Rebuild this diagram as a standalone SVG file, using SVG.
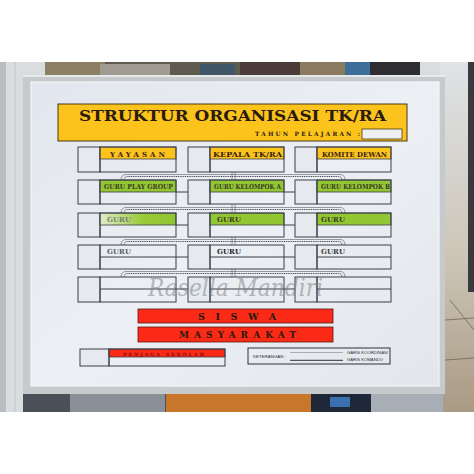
<svg xmlns="http://www.w3.org/2000/svg" width="474" height="474" viewBox="0 0 474 474">
<defs>
<linearGradient id="board" x1="0" y1="0" x2="1" y2="1">
<stop offset="0" stop-color="#e2e6ee"/>
<stop offset="0.5" stop-color="#eceff3"/>
<stop offset="1" stop-color="#e3e6ea"/>
</linearGradient>
<linearGradient id="glare" x1="0" y1="0" x2="1" y2="0">
<stop offset="0" stop-color="#dfeccd"/>
<stop offset="0.55" stop-color="#9bcb3a"/>
<stop offset="1" stop-color="#8fc431"/>
</linearGradient>
<linearGradient id="tile" x1="0" y1="0" x2="0" y2="1">
<stop offset="0" stop-color="#dfe3e6"/>
<stop offset="0.55" stop-color="#cdc6b8"/>
<stop offset="1" stop-color="#a99a84"/>
</linearGradient>
</defs>
<style>
.box{fill:none;stroke:#3a3e48;stroke-width:1}
.sq{fill:#e6e9ee;stroke:#3a3e48;stroke-width:1}
.yel{fill:#fbc31c;stroke:#3a3e48;stroke-width:0.8}
.grn{fill:#93c633;stroke:#3a3e48;stroke-width:0.8}
.red{fill:#fb2a16;stroke:#5a1a14;stroke-width:0.8}
.ht{font-family:"DejaVu Serif","Liberation Serif",serif;font-weight:bold;font-size:7px;fill:#3a1e12}
.gt{font-family:"DejaVu Serif","Liberation Serif",serif;font-weight:bold;font-size:7px;fill:#3a3a22}
.big{font-family:"DejaVu Serif","Liberation Serif",serif;font-weight:bold;fill:#2a1a10}
.sm{font-family:"Liberation Sans","DejaVu Sans",sans-serif;font-size:4.2px;fill:#2a2e36}
.link{stroke:#3a3e48;stroke-width:1;fill:none}
.rail{stroke:#5a5e66;stroke-width:0.6;fill:none}
.dot{stroke:#3a3e48;stroke-width:1;stroke-dasharray:1 0.8;fill:none}
</style>

<!-- photo background -->
<rect x="0" y="0" width="474" height="474" fill="#ffffff"/>
<rect x="0" y="62" width="474" height="350" fill="#d9dde0"/>
<rect x="0" y="62" width="6" height="350" fill="#b9bdc0"/>
<line x1="15" y1="62" x2="15" y2="412" stroke="#c2c6c9" stroke-width="1"/>
<rect x="45" y="62" width="375" height="14" fill="#5e5a50"/>
<rect x="45" y="62" width="60" height="14" fill="#8d7f66"/>
<rect x="100" y="64" width="70" height="12" fill="#9f9b90"/>
<rect x="200" y="64" width="35" height="12" fill="#3f5568"/>
<rect x="240" y="62" width="60" height="14" fill="#4a3a38"/>
<rect x="300" y="62" width="45" height="14" fill="#8a7a60"/>
<rect x="345" y="62" width="25" height="14" fill="#3d6f9a"/>
<rect x="370" y="62" width="50" height="14" fill="#2e2e32"/>
<rect x="440" y="62" width="34" height="350" fill="url(#tile)"/>
<rect x="468" y="62" width="6" height="230" fill="#3a3a3e"/>
<line x1="445" y1="320" x2="474" y2="318" stroke="#6e6458" stroke-width="0.8"/>
<line x1="445" y1="360" x2="474" y2="358" stroke="#6e6458" stroke-width="0.8"/>
<line x1="450" y1="300" x2="474" y2="330" stroke="#6e6458" stroke-width="0.8"/>
<rect x="23" y="393" width="420" height="19" fill="#4a5058"/>
<rect x="70" y="393" width="95" height="19" fill="#8a9098"/>
<rect x="166" y="394" width="145" height="18" fill="#c8762c"/>
<rect x="311" y="394" width="60" height="18" fill="#1f2838"/>
<rect x="330" y="397" width="20" height="10" fill="#3a70b0"/>
<rect x="371" y="394" width="72" height="18" fill="#a8aeb6"/>

<!-- whiteboard -->
<rect x="23" y="75" width="422" height="319" fill="#c6cacd"/>
<rect x="23" y="75" width="422" height="2" fill="#e6e8ea"/>
<rect x="31" y="82" width="408" height="304" fill="url(#board)" stroke="#f4f5f7" stroke-width="1.2"/>

<!-- title -->
<g id="title">
<rect x="58" y="104" width="349" height="37" fill="#fbc31c" stroke="#4a3a1a" stroke-width="1"/>
<text class="big" x="79" y="121" font-size="14.5" textLength="307" lengthAdjust="spacingAndGlyphs">STRUKTUR ORGANISASI TK/RA</text>
<text class="big" x="255" y="136" font-size="5.8" textLength="105" lengthAdjust="spacing">TAHUN PELAJARAN :</text>
<rect x="362" y="129" width="40" height="10" fill="#eef0f2" stroke="#4a3a1a" stroke-width="0.8"/>
</g>

<!-- connectors -->
<g id="connectors">
<line class="link" x1="176" y1="192" x2="188" y2="192"/>
<line class="link" x1="284" y1="192" x2="295" y2="192"/>
<line class="link" x1="176" y1="225" x2="188" y2="225"/>
<line class="link" x1="284" y1="225" x2="295" y2="225"/>
<line class="link" x1="176" y1="257" x2="188" y2="257"/>
<line class="link" x1="284" y1="257" x2="295" y2="257"/>
<line class="link" x1="176" y1="289" x2="188" y2="289"/>
<line class="link" x1="284" y1="289" x2="295" y2="289"/>
<path class="rail" d="M121,180 Q121,174.5 126,174.5 H340 Q345,174.5 345,180"/>
<path class="dot" d="M124,180 Q124,176.5 128,176.5 H338 Q342,176.5 342,180"/>
<path class="rail" d="M121,213 Q121,207.5 126,207.5 H340 Q345,207.5 345,213"/>
<path class="dot" d="M124,213 Q124,209.5 128,209.5 H338 Q342,209.5 342,213"/>
<path class="rail" d="M121,245 Q121,239.5 126,239.5 H340 Q345,239.5 345,245"/>
<path class="dot" d="M124,245 Q124,241.5 128,241.5 H338 Q342,241.5 342,245"/>
<path class="rail" d="M121,277 Q121,271.5 126,271.5 H340 Q345,271.5 345,277"/>
<path class="dot" d="M124,277 Q124,273.5 128,273.5 H338 Q342,273.5 342,277"/>
<path class="rail" d="M232,172 V180 M235,172 V180 M232,204 V213 M235,204 V213 M232,237 V245 M235,237 V245 M232,269 V277 M235,269 V277"/>
</g>

<!-- row 1 -->
<g id="yayasan">
<rect class="sq" x="78" y="147" width="22" height="25"/>
<rect class="yel" x="100" y="147" width="76" height="12"/>
<rect class="box" x="100" y="147" width="76" height="25"/>
<text class="ht" x="110" y="156.5" textLength="55" lengthAdjust="spacing">YAYASAN</text>
</g>
<g id="kepala">
<rect class="sq" x="188" y="147" width="22" height="25"/>
<rect class="yel" x="210" y="147" width="74" height="12"/>
<rect class="box" x="210" y="147" width="74" height="25"/>
<text class="ht" x="213" y="156.5" textLength="69" lengthAdjust="spacingAndGlyphs">KEPALA TK/RA</text>
</g>
<g id="komite">
<rect class="sq" x="295" y="147" width="22" height="25"/>
<rect class="yel" x="317" y="147" width="74" height="12"/>
<rect class="box" x="317" y="147" width="74" height="25"/>
<text class="ht" x="322" y="156.5" textLength="65" lengthAdjust="spacingAndGlyphs">KOMITE DEWAN</text>
</g>

<!-- row 2 -->
<g id="guru-play-group">
<rect class="sq" x="78" y="180" width="22" height="24"/>
<rect class="grn" x="100" y="180" width="76" height="12"/>
<rect class="box" x="100" y="180" width="76" height="24"/>
<text class="gt" x="104" y="189" textLength="69" lengthAdjust="spacingAndGlyphs">GURU PLAY GROUP</text>
</g>
<g id="guru-kelompok-a">
<rect class="sq" x="188" y="180" width="22" height="24"/>
<rect class="grn" x="210" y="180" width="74" height="12"/>
<rect class="box" x="210" y="180" width="74" height="24"/>
<text class="gt" x="214" y="189" textLength="67" lengthAdjust="spacingAndGlyphs">GURU KELOMPOK A</text>
</g>
<g id="guru-kelompok-b">
<rect class="sq" x="295" y="180" width="22" height="24"/>
<rect class="grn" x="317" y="180" width="74" height="12"/>
<rect class="box" x="317" y="180" width="74" height="24"/>
<text class="gt" x="321" y="189" textLength="69" lengthAdjust="spacingAndGlyphs">GURU KELOMPOK B</text>
</g>

<!-- row 3 -->
<g id="guru-3a">
<rect class="sq" x="78" y="213" width="22" height="24"/>
<rect x="100" y="213" width="76" height="12" fill="url(#glare)" stroke="#3a3e48" stroke-width="0.8"/>
<rect class="box" x="100" y="213" width="76" height="24"/>
<text class="gt" x="107" y="222" fill="#7a7d70" style="fill:#7a7d70">GURU</text>
</g>
<g id="guru-3b">
<rect class="sq" x="188" y="213" width="22" height="24"/>
<rect class="grn" x="210" y="213" width="74" height="12"/>
<rect class="box" x="210" y="213" width="74" height="24"/>
<text class="gt" x="217" y="222">GURU</text>
</g>
<g id="guru-3c">
<rect class="sq" x="295" y="213" width="22" height="24"/>
<rect class="grn" x="317" y="213" width="74" height="12"/>
<rect class="box" x="317" y="213" width="74" height="24"/>
<text class="gt" x="321" y="222">GURU</text>
</g>

<!-- row 4 -->
<g id="guru-4a">
<rect class="sq" x="78" y="245" width="22" height="24"/>
<rect class="box" x="100" y="245" width="76" height="24"/>
<line class="link" x1="100" y1="257" x2="176" y2="257"/>
<text class="gt" x="107" y="254" style="fill:#5a5e66">GURU</text>
</g>
<g id="guru-4b">
<rect class="sq" x="188" y="245" width="22" height="24"/>
<rect class="box" x="210" y="245" width="74" height="24"/>
<line class="link" x1="210" y1="257" x2="284" y2="257"/>
<text class="gt" x="217" y="254" style="fill:#22262e">GURU</text>
</g>
<g id="guru-4c">
<rect class="sq" x="295" y="245" width="22" height="24"/>
<rect class="box" x="317" y="245" width="74" height="24"/>
<line class="link" x1="317" y1="257" x2="391" y2="257"/>
<text class="gt" x="321" y="254" style="fill:#3a3e46">GURU</text>
</g>

<!-- row 5 -->
<g id="blank-5a">
<rect class="sq" x="78" y="277" width="22" height="25"/>
<rect class="box" x="100" y="277" width="76" height="25"/>
<line class="link" x1="100" y1="289" x2="176" y2="289"/>
</g>
<g id="blank-5b">
<rect class="sq" x="188" y="277" width="22" height="25"/>
<rect class="box" x="210" y="277" width="74" height="25"/>
<line class="link" x1="210" y1="289" x2="284" y2="289"/>
</g>
<g id="blank-5c">
<rect class="sq" x="295" y="277" width="22" height="25"/>
<rect class="box" x="317" y="277" width="74" height="25"/>
<line class="link" x1="317" y1="289" x2="391" y2="289"/>
</g>

<!-- siswa / masyarakat -->
<g id="siswa">
<rect class="red" x="138" y="309" width="195" height="14"/>
<text class="big" x="198" y="319.5" font-size="9.5" textLength="78" lengthAdjust="spacing">SISWA</text>
</g>
<g id="masyarakat">
<rect class="red" x="138" y="327" width="195" height="15"/>
<text class="big" x="179" y="338" font-size="9" textLength="117" lengthAdjust="spacing">MASYARAKAT</text>
</g>

<!-- penjaga sekolah -->
<g id="penjaga-sekolah">
<rect class="sq" x="80" y="349" width="29" height="17"/>
<rect class="red" x="109" y="349" width="116" height="8" style="stroke:#3a3e48"/>
<rect class="box" x="109" y="349" width="116" height="17"/>
<text class="big" x="123" y="355.5" font-size="4.5" textLength="81" lengthAdjust="spacing" style="fill:#7a0c08">PENJAGA SEKOLAH</text>
</g>

<!-- keterangan -->
<g id="keterangan">
<rect x="248" y="348" width="142" height="16" fill="none" stroke="#2e323a" stroke-width="1"/>
<text class="sm" x="253" y="358" textLength="33" lengthAdjust="spacingAndGlyphs">KETERANGAN :</text>
<line x1="290" y1="352.5" x2="343" y2="352.5" stroke="#6a6e76" stroke-width="0.5"/>
<line x1="290" y1="360.3" x2="343" y2="360.3" stroke="#2e323a" stroke-width="1"/>
<text class="sm" x="347" y="354" textLength="41" lengthAdjust="spacingAndGlyphs">GARIS KOORDINASI</text>
<text class="sm" x="347" y="361" textLength="36" lengthAdjust="spacingAndGlyphs">GARIS KOMANDO</text>
</g>

<!-- watermark -->
<text x="148" y="296" font-family="'DejaVu Serif','Liberation Serif',serif" font-style="italic" font-size="24" fill="#7d8188" fill-opacity="0.55" textLength="175" lengthAdjust="spacingAndGlyphs">Rasella Mandiri</text>
</svg>
